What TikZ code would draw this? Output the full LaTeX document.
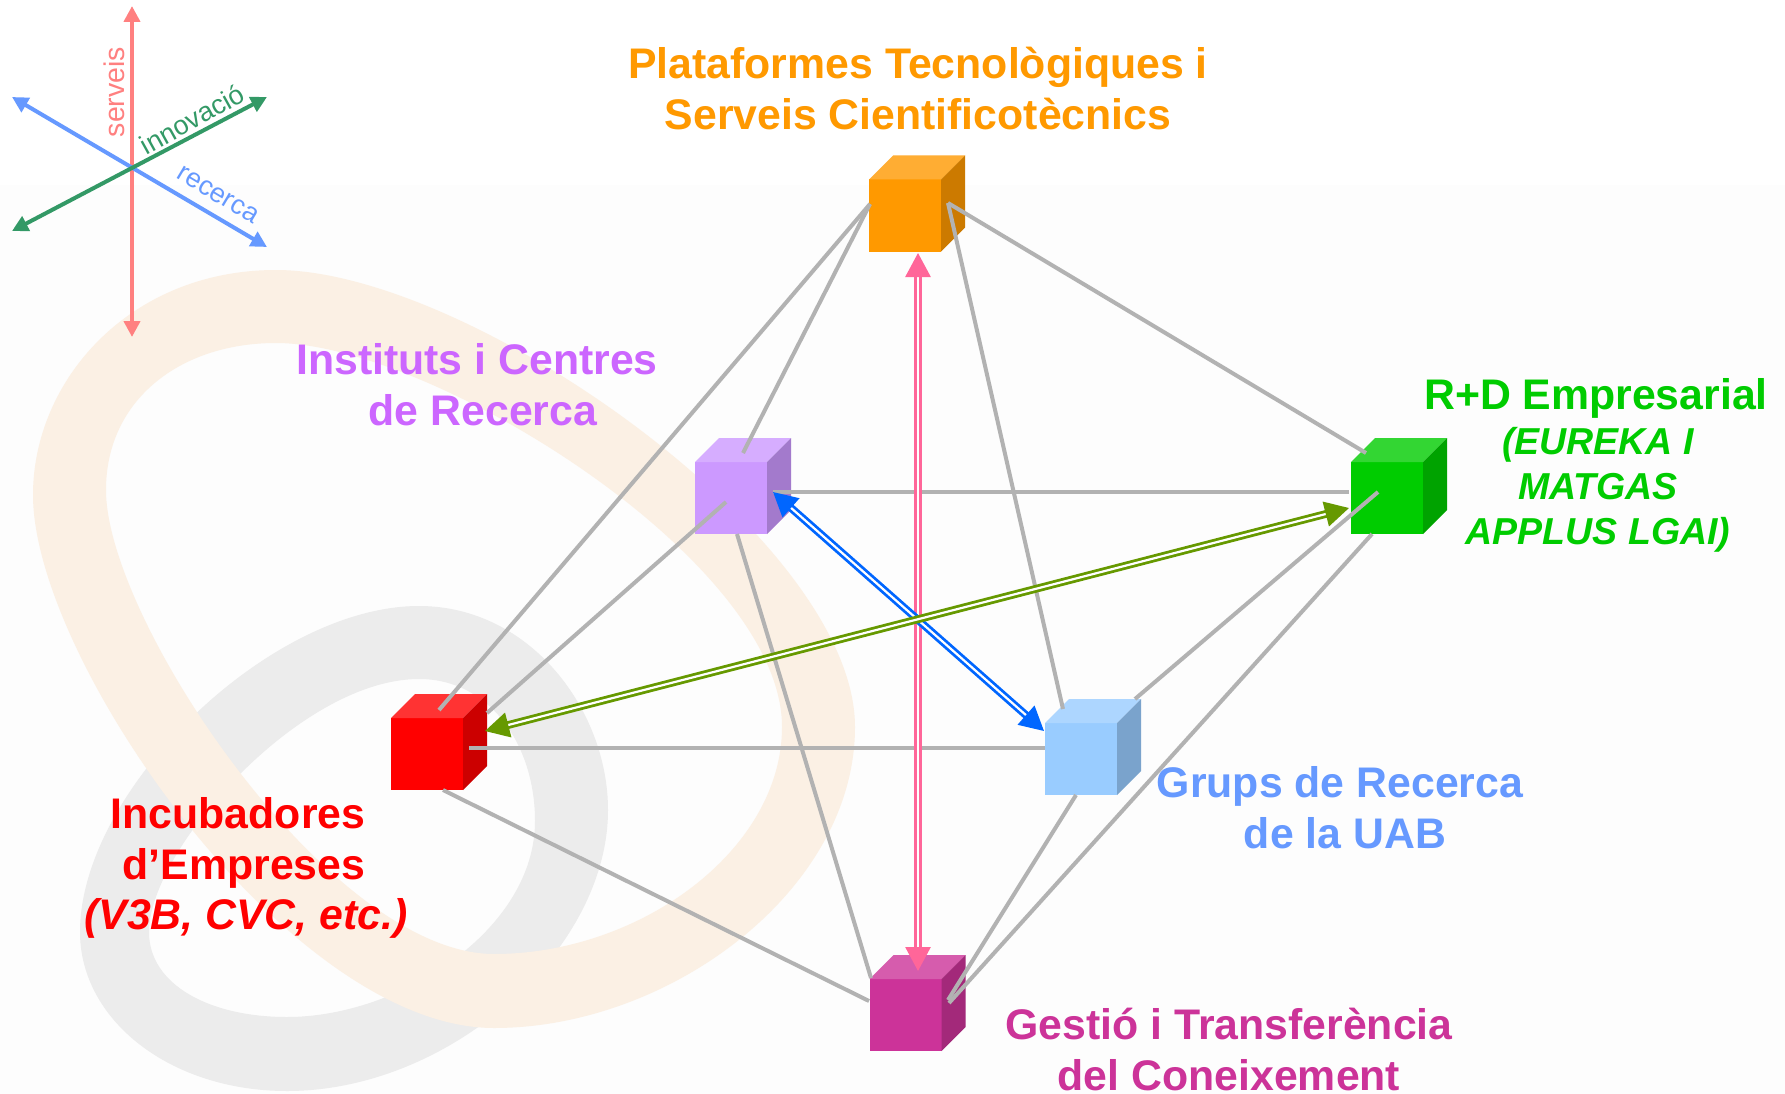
\documentclass[tikz,border=0pt]{standalone}
\usepackage{fontspec}
\setmainfont{Liberation Sans}
\usetikzlibrary{arrows.meta,calc}
\definecolor{cOr}{HTML}{FF9900}\definecolor{cOrT}{HTML}{FFAD33}\definecolor{cOrS}{HTML}{CC7A00}
\definecolor{cPu}{HTML}{CC99FF}\definecolor{cPuT}{HTML}{D6ADFF}\definecolor{cPuS}{HTML}{A37ACC}
\definecolor{cGr}{HTML}{00CC00}\definecolor{cGrT}{HTML}{33D633}\definecolor{cGrS}{HTML}{00A300}
\definecolor{cRe}{HTML}{FF0000}\definecolor{cReT}{HTML}{FF3333}\definecolor{cReS}{HTML}{CC0000}
\definecolor{cBl}{HTML}{99CCFF}\definecolor{cBlT}{HTML}{ADD6FF}\definecolor{cBlS}{HTML}{7AA3CC}
\definecolor{cMa}{HTML}{CC3399}\definecolor{cMaT}{HTML}{D65CAD}\definecolor{cMaS}{HTML}{A3297A}
\definecolor{cBeige}{HTML}{FBF0E4}\definecolor{cRing}{HTML}{ECECEC}\definecolor{cBack}{HTML}{FDFDFD}
\definecolor{cLine}{HTML}{B2B2B2}
\definecolor{cAxP}{HTML}{FF8080}\definecolor{cAxB}{HTML}{6699FF}\definecolor{cAxG}{HTML}{339966}
\definecolor{cArP}{HTML}{FF6699}\definecolor{cArB}{HTML}{0066FF}\definecolor{cArG}{HTML}{669900}
\definecolor{cTxP}{HTML}{CC66FF}
\tikzset{
  front/.style={rectangle,minimum width=72pt,minimum height=72pt,inner sep=0pt,outer sep=0pt},
  link/.style={draw=cLine,line width=4pt},
  axis/.style={line width=4pt,{Triangle[length=16pt,width=16pt]}-{Triangle[length=16pt,width=16pt]}},
  twin/.style={line width=2.8pt,double=white,double distance=2.2pt,{Triangle[length=24pt,width=25pt]}-{Triangle[length=24pt,width=25pt]}},
  big/.style={font=\fontsize{42.8}{51}\selectfont\bfseries,align=center,inner sep=0pt},
  sub/.style={font=\fontsize{37.5}{45}\selectfont\bfseries\itshape,align=center,inner sep=0pt},
  axl/.style={font=\fontsize{27}{27}\selectfont,inner sep=0pt},
}
\newcommand{\cubebox}[6]{%
  \node[front,fill=#4] (#1) at (#2,#3) {};
  \fill[#5] (#1.north west) -- ++(24,-24) -- ++(72,0) -- ($(#1.north east)$) -- cycle;
  \fill[#6] (#1.north east) -- ++(24,-24) -- ++(0,72) -- (#1.south east) -- cycle;
}
\begin{document}
\begin{tikzpicture}[x=1pt,y=-1pt]
\useasboundingbox (0,0) rectangle (1785,1094);
\fill[white] (0,0) rectangle (1785,1094);
\fill[cBack] (0,185) rectangle (1785,1094);
% rings
\fill[cRing,even odd rule]
  (419,606) .. controls (530,606) and (608,710) .. (608,810)
  .. controls (608,950) and (450,1091) .. (287,1091)
  .. controls (170,1091) and (80,1020) .. (80,932)
  .. controls (80,790) and (270,606) .. (419,606) -- cycle
  (419,679) .. controls (490,679) and (535,745) .. (535,821)
  .. controls (535,930) and (400,1017) .. (287,1017)
  .. controls (210,1017) and (149,985) .. (149,932)
  .. controls (149,850) and (300,679) .. (419,679) -- cycle;
\fill[cBeige,even odd rule]
  (33,495) .. controls (33,380) and (130,270) .. (276,270)
  .. controls (470,270) and (855,540) .. (855,727)
  .. controls (855,890) and (670,1028) .. (494,1028)
  .. controls (290,1028) and (33,660) .. (33,495) -- cycle
  (106,490) .. controls (106,400) and (180,343) .. (276,343)
  .. controls (430,343) and (782,560) .. (782,727)
  .. controls (782,850) and (640,954) .. (494,954)
  .. controls (330,954) and (106,620) .. (106,490) -- cycle;
% axes
\coordinate (axN) at (132,6); \coordinate (axS) at (132,337);
\coordinate (axNW) at (12,97); \coordinate (axSE) at (267,247);
\coordinate (axNE) at (267,97); \coordinate (axSW) at (12,231);
\draw[axis,cAxP] (axN) -- (axS);
\draw[axis,cAxB] (axNW) -- (axSE);
\draw[axis,cAxG] (axSW) -- (axNE);
\node[axl,text=cAxP,rotate=90,font=\fontsize{28.5}{28.5}\selectfont] (lbS) at (114,92) {serveis};
\node[axl,text=cAxG,rotate=29] (lbI) at (192,119) {innovació};
\node[axl,text=cAxB,rotate=-31] (lbR) at (218,195) {recerca};
% cubes
\cubebox{orange}{905}{215.5}{cOr}{cOrT}{cOrS}
\cubebox{purple}{731}{498}{cPu}{cPuT}{cPuS}
\cubebox{green}{1387}{498}{cGr}{cGrT}{cGrS}
\cubebox{red}{427}{754}{cRe}{cReT}{cReS}
\cubebox{blue}{1081}{759}{cBl}{cBlT}{cBlS}
\cubebox{magenta}{905.5}{1015}{cMa}{cMaT}{cMaS}
% connector ends
\coordinate (oL) at (870,204); \coordinate (oR) at (948,203);
\coordinate (pT) at (743,453); \coordinate (pR) at (773,492); \coordinate (pC) at (726,502); \coordinate (pB) at (737,534);
\coordinate (gT) at (1366,453); \coordinate (gL) at (1349,492); \coordinate (gC) at (1378,492); \coordinate (gB) at (1372,534);
\coordinate (rT) at (439,710); \coordinate (rS) at (487,713); \coordinate (rR) at (469,748); \coordinate (rB) at (443,790);
\coordinate (bT) at (1063,709); \coordinate (bB) at (1135,699); \coordinate (bL) at (1045,748); \coordinate (bD) at (1076,795);
\coordinate (mL) at (869,1001); \coordinate (mT) at (871,978); \coordinate (mR) at (949,1003); \coordinate (mQ) at (948,1000);
\draw[link] (oL) -- (rT);
\draw[link] (oL) -- (pT);
\draw[link] (oR) -- (gT);
\draw[link] (oR) -- (bT);
\draw[link] (pR) -- (gL);
\draw[link] (pC) -- (rS);
\draw[link] (pB) -- (mT);
\draw[link] (gC) -- (bB);
\draw[link] (gB) -- (mR);
\draw[link] (bD) -- (mQ);
\draw[link] (rR) -- (bL);
\draw[link] (rB) -- (mL);
% double arrows
\coordinate (aT) at (918,253); \coordinate (aB) at (918,971);
\coordinate (bA) at (773,492); \coordinate (bZ) at (1044,731);
\coordinate (gA) at (1349,508); \coordinate (gZ) at (485,731);
\draw[twin,cArP] (aT) -- (aB);
\draw[twin,cArB] (bA) -- (bZ);
\draw[twin,cArG] (gA) -- (gZ);
% labels
\node[big,text=cOr] (tO) at (918,89) {Plataformes Tecnològiques i\\Serveis Cientificotècnics};
\node[big,text=cTxP] (tP) at (477,385) {Instituts i Centres\\\hspace{12pt}de Recerca};
\node[big,text=cGr] (tG) at (1596,398) {R+D Empresarial};
\node[sub,text=cGr] (tG2) at (1598,490) {(EUREKA I\\MATGAS\\APPLUS LGAI)};
\node[big,text=cRe] (tR) at (238,843) {Incubadores\\\hspace*{12pt}d’Empreses};
\node[big,text=cRe,font=\fontsize{42.8}{51}\selectfont\bfseries\itshape] (tR2) at (246,918) {(V3B, CVC, etc.)};
\node[big,text=cAxB] (tB) at (1340,808) {Grups de Recerca\\\hspace{10pt}de la UAB};
\node[big,text=cMa] (tM) at (1229,1050) {Gestió i Transferència\\del Coneixement};
\end{tikzpicture}
\end{document}
